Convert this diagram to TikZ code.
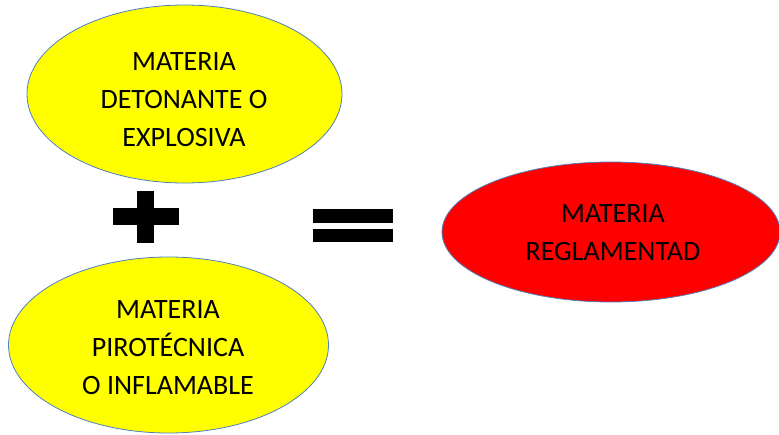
\documentclass[tikz,border=0pt]{standalone}
\usepackage{fontspec}
\setmainfont{Carlito}
\usetikzlibrary{shapes.geometric}
\definecolor{edgeblue}{HTML}{4F81BD}
\definecolor{yel}{HTML}{FFFF00}
\definecolor{redfill}{HTML}{FF0000}
\tikzset{
  blob/.style={ellipse, draw=edgeblue, line width=0.8pt, inner sep=0pt},
  lbl/.style={align=center, inner sep=0pt, font=\fontsize{28}{38}\selectfont, text=black},
  signbar/.style={fill=black, draw=none}
}
\begin{document}
\begin{tikzpicture}[x=1pt,y=-1pt]
\useasboundingbox (0,0) rectangle (779,434);
\fill[white] (0,0) rectangle (779,434);
\node[blob, fill=yel, minimum width=315pt, minimum height=178pt] (top) at (184.5,94) {};
\node[lbl] (toptext) at (184,100) {MATERIA\\DETONANTE O\\EXPLOSIVA};
\node[blob, fill=yel, minimum width=320pt, minimum height=176pt] (bot) at (168.5,345) {};
\node[lbl] (bottext) at (168,348) {MATERIA\\PIROTÉCNICA\\O INFLAMABLE};
\node[blob, fill=redfill, minimum width=338pt, minimum height=140pt] (res) at (611,232) {};
\node[lbl] (restext) at (613,232.5) {MATERIA\\REGLAMENTAD};
% plus sign
\fill[signbar] (113,208) rectangle (179,225);
\fill[signbar] (137,191) rectangle (154,243);
% equals sign
\fill[signbar] (313,209) rectangle (393,223);
\fill[signbar] (313,229) rectangle (393,242);
\end{tikzpicture}
\end{document}
